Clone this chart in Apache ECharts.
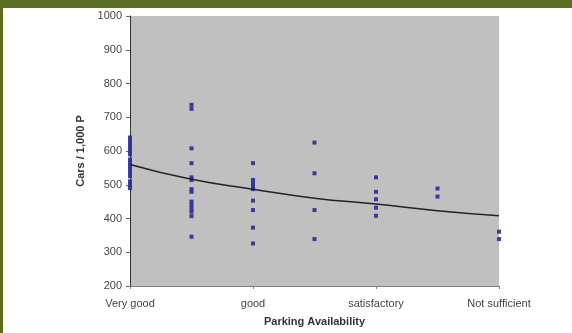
<!DOCTYPE html>
<html>
<head>
<meta charset="utf-8">
<script src="https://cdn.jsdelivr.net/npm/echarts@6/dist/echarts.min.js"></script>
<style>html,body{margin:0;padding:0;background:#fff;}#c{width:572px;height:333px;}</style>
</head>
<body>
<div id="c"></div>
<script>
// Category labels on the x axis (positions 0..6, labels every 2)
const categoryLabels = ['Very good', '', 'good', '', 'satisfactory', '', 'Not sufficient'];
// Observed values (Cars / 1,000 P) per position
const col0 = [640, 630, 620, 610, 600, 590, 575, 565, 555, 545, 535, 525, 510, 500, 490];
const col1 = [737, 725, 608, 564, 522, 514, 487, 479, 450, 440, 430, 420, 407, 346];
const col2 = [564, 514, 504, 494, 487, 453, 425, 373, 326];
const col3 = [625, 534, 425, 339];
const col4 = [522, 479, 457, 432, 408];
const col5 = [489, 465];
const col6 = [361, 339];
// Trend line values read at each position
const trendValues = [560, 516, 487, 460, 443, 423, 408];
const yTicks = [200, 300, 400, 500, 600, 700, 800, 900, 1000];

const cols = [col0, col1, col2, col3, col4, col5, col6];
const points = [];
cols.forEach((c, i) => c.forEach(v => points.push([i, v])));
const trend = trendValues.map((v, i) => [i, v]);

const chart = echarts.init(document.getElementById('c'));
chart.setOption({
  animation: false,
  backgroundColor: '#ffffff',
  grid: { left: 130, right: 73, top: 16, bottom: 47, show: true, backgroundColor: '#c0c0c0', borderWidth: 0 },
  xAxis: {
    type: 'value', min: 0, max: 6, interval: 2,
    name: 'Parking Availability', nameLocation: 'middle', nameGap: 30,
    nameTextStyle: { fontFamily: 'Liberation Sans', fontSize: 11, fontWeight: 'bold', color: '#333' },
    axisLine: { show: true, lineStyle: { color: '#808080', width: 1 } },
    axisTick: { show: true, length: 3, lineStyle: { color: '#808080' } },
    splitLine: { show: false },
    axisLabel: { fontFamily: 'Liberation Sans', fontSize: 11, color: '#444', margin: 12,
      formatter: v => categoryLabels[v] || '' }
  },
  yAxis: {
    type: 'value', min: yTicks[0], max: yTicks[yTicks.length - 1], interval: 100,
    name: 'Cars / 1,000 P', nameLocation: 'middle', nameGap: 43,
    nameTextStyle: { fontFamily: 'Liberation Sans', fontSize: 11, fontWeight: 'bold', color: '#333' },
    axisLine: { show: true, lineStyle: { color: '#333', width: 1 } },
    axisTick: { show: true, length: 4, lineStyle: { color: '#666' } },
    splitLine: { show: false },
    axisLabel: { fontFamily: 'Liberation Sans', fontSize: 11, color: '#444', margin: 8,
      formatter: v => String(v) }
  },
  series: [
    {
      type: 'scatter', data: points, symbol: 'rect', symbolSize: [4, 4],
      itemStyle: { color: '#2b2b96', opacity: 0.9 }, z: 3
    },
    {
      type: 'line', data: trend, smooth: true, showSymbol: false,
      lineStyle: { color: '#222', width: 1.5 }, z: 4
    }
  ],
  graphic: [
    { type: 'rect', left: 0, top: 0, shape: { width: 572, height: 8 }, style: { fill: '#5b6e22' }, z: 100 },
    { type: 'rect', left: 0, top: 0, shape: { width: 3, height: 333 }, style: { fill: '#5b6e22' }, z: 100 }
  ]
});
</script>
</body>
</html>
